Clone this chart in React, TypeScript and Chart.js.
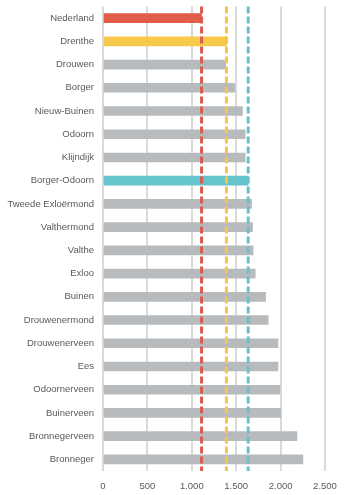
import React, { useEffect, useRef } from "react";
import { Chart, registerables } from "chart.js";

Chart.register(...registerables);

const categories = [
  "Nederland", "Drenthe", "Drouwen", "Borger", "Nieuw-Buinen", "Odoorn", "Klijndijk",
  "Borger-Odoorn", "Tweede Exloërmond", "Valthermond", "Valthe", "Exloo", "Buinen",
  "Drouwenermond", "Drouwenerveen", "Ees", "Odoornerveen", "Buinerveen", "Bronnegerveen", "Bronneger",
];
const values = [
  1110, 1390, 1383, 1485, 1571, 1601, 1601,
  1635, 1673, 1684, 1691, 1714, 1831,
  1860, 1970, 1970, 1992, 2003, 2184, 2251,
];
const referenceNames = ["Nederland", "Drenthe", "Borger-Odoorn"];
const referenceValues = [1110, 1390, 1635];
const referenceColors = ["#d95b4b", "#f6c648", "#67c2c9"];
const barColors: Record<string, string> = {
  Nederland: "#e05d4a",
  Drenthe: "#f8c94a",
  "Borger-Odoorn": "#66c4cc",
};
const grayBar = "#b8bbbe";
const xTicks = [0, 500, 1000, 1500, 2000, 2500];

const fmt = (v: number) => v.toLocaleString("nl-NL").replace(/\u00a0/g, "");

const refLines = {
  id: "refLines",
  afterDatasetsDraw(chart: any) {
    const { ctx, chartArea, scales } = chart;
    ctx.save();
    referenceValues.forEach((v, i) => {
      const x = scales.x.getPixelForValue(v);
      ctx.beginPath();
      ctx.setLineDash([7, 3]);
      ctx.lineWidth = 3;
      ctx.strokeStyle = referenceColors[i];
      ctx.moveTo(x, chartArea.top);
      ctx.lineTo(x, chartArea.bottom);
      ctx.stroke();
    });
    ctx.restore();
  },
};

export default function App() {
  const ref = useRef<HTMLCanvasElement>(null);
  useEffect(() => {
    document.body.style.margin = "0";
    const chart = new Chart(ref.current!, {
      type: "bar",
      data: {
        labels: categories,
        datasets: [
          {
            data: values,
            backgroundColor: categories.map((c) => barColors[c] || grayBar),
            barThickness: 9,
          },
        ],
      },
      options: {
        indexAxis: "y",
        animation: false,
        responsive: false,
        layout: { padding: { top: 6.5, right: 27, left: 0, bottom: 0 } },
        plugins: { legend: { display: false }, tooltip: { enabled: false } },
        scales: {
          x: {
            min: 0,
            max: 2500,
            afterBuildTicks: (s: any) => {
              s.ticks = xTicks.map((v) => ({ value: v }));
            },
            afterFit: (s: any) => {
              s.height = 24;
            },
            border: { display: false },
            grid: { color: "#dadada", lineWidth: 2, drawTicks: false },
            ticks: {
              padding: 10,
              color: "#595959",
              font: { family: "Liberation Sans", size: 9.5 },
              callback: (v: any) => fmt(Number(v)),
            },
          },
          y: {
            afterFit: (s: any) => {
              s.width = 103;
              s.paddingTop = 0;
              s.paddingBottom = 0;
            },
            border: { display: false },
            grid: { display: false, drawTicks: false },
            ticks: {
              padding: 9,
              color: "#595959",
              font: { family: "Liberation Sans", size: 9.5 },
              autoSkip: false,
            },
          },
        },
      },
      plugins: [refLines],
    });
    return () => chart.destroy();
  }, []);
  return <canvas ref={ref} width={352} height={495} style={{ display: "block" }} />;
}
